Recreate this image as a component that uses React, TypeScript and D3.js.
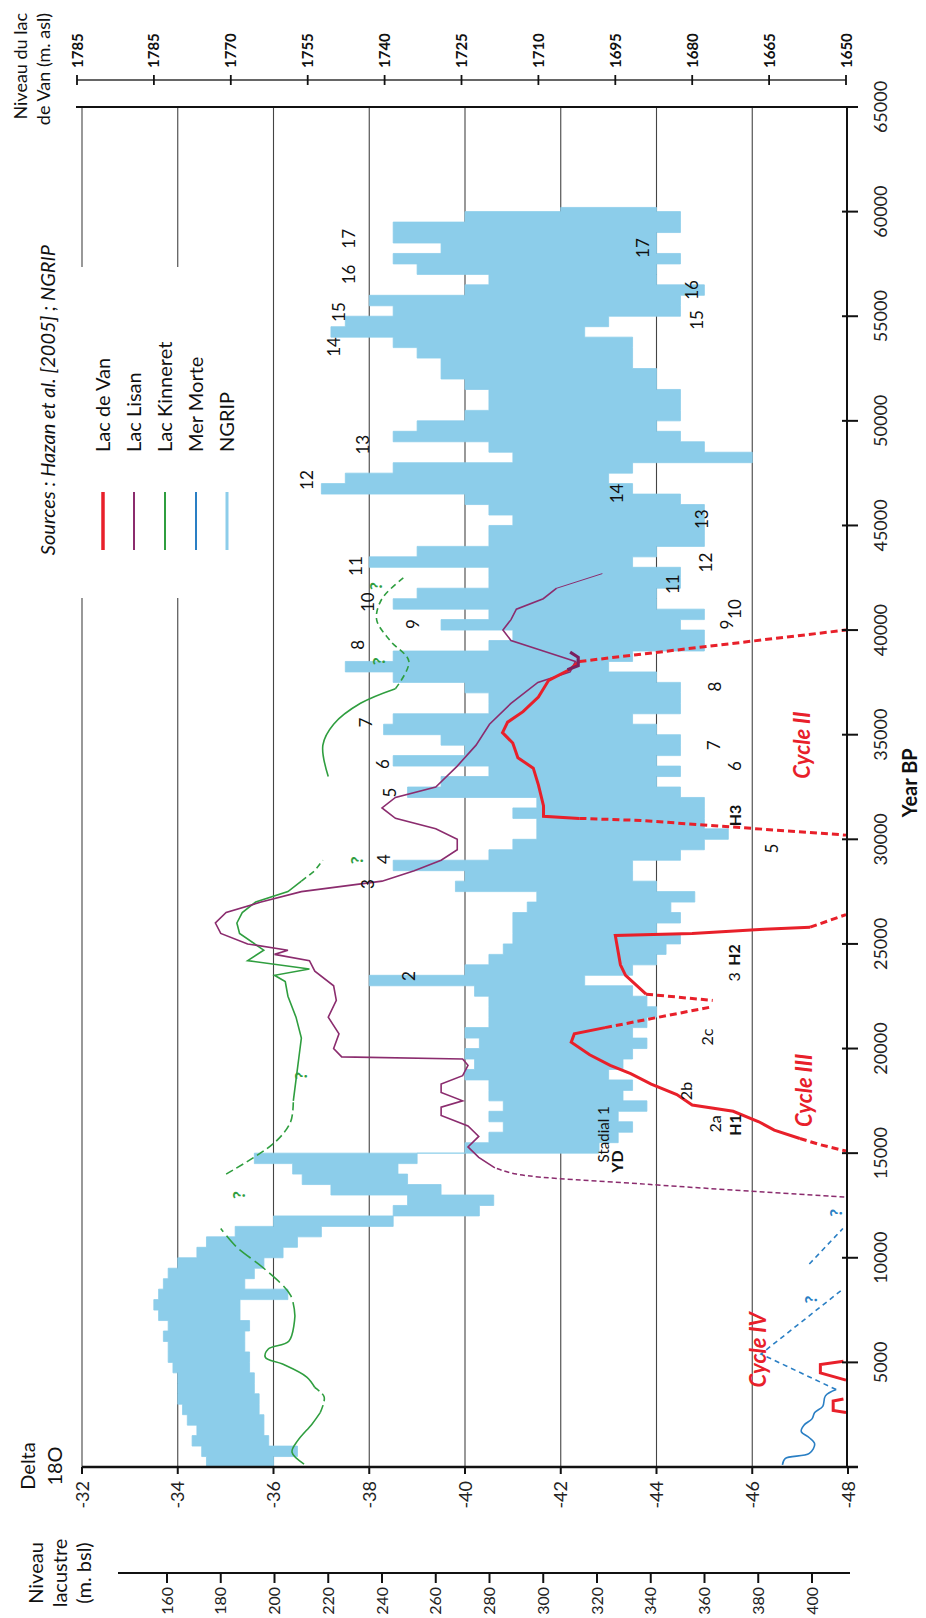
import React from "react";
import * as d3 from "d3";

const W = 926;
const HT = 1618;
const FONT = "Lato, 'Open Sans', 'Liberation Sans', sans-serif";

// ---------- axes / ticks ----------
const yearTicks = [5000, 10000, 15000, 20000, 25000, 30000, 35000, 40000, 45000, 50000, 55000, 60000, 65000];
const deltaTicks = [-32, -34, -36, -38, -40, -42, -44, -46, -48];
const bslTicks = [160, 180, 200, 220, 240, 260, 280, 300, 320, 340, 360, 380, 400];
const vanTickValues = [1800, 1785, 1770, 1755, 1740, 1725, 1710, 1695, 1680, 1665, 1650];
const vanTickLabels = ["1785", "1785", "1770", "1755", "1740", "1725", "1710", "1695", "1680", "1665", "1650"];

// ---------- NGRIP envelope, 500-yr bins (bin start year, warm edge, cold edge; per mil) ----------
const ngripYear = [
  0, 500, 1000, 1500, 2000, 2500, 3000, 3500, 4000, 4500, 5000, 5500, 6000, 6500, 7000, 7500, 8000, 8500, 9000, 9500,
  10000, 10500, 11000, 11500, 12000, 12500, 13000, 13500, 14000, 14500, 15000, 15500, 16000, 16500, 17000, 17500, 18000, 18500, 19000, 19500,
  20000, 20500, 21000, 21500, 22000, 22500, 23000, 23500, 24000, 24500, 25000, 25500, 26000, 26500, 27000, 27500, 28000, 28500, 29000, 29500,
  30000, 30500, 31000, 31500, 32000, 32500, 33000, 33500, 34000, 34500, 35000, 35500, 36000, 36500, 37000, 37500, 38000, 38500, 39000, 39500,
  40000, 40500, 41000, 41500, 42000, 42500, 43000, 43500, 44000, 44500, 45000, 45500, 46000, 46500, 47000, 47500, 48000, 48500, 49000, 49500,
  50000, 50500, 51000, 51500, 52000, 52500, 53000, 53500, 54000, 54500, 55000, 55500, 56000, 56500, 57000, 57500, 58000, 58500, 59000, 59500,
  60000, 60200,
];
const ngripWarm = [
  -34.6, -34.5, -34.3, -34.4, -34.2, -34.1, -34.0, -34.0, -34.0, -33.9, -33.8, -33.8, -33.7, -33.8, -33.6, -33.5, -33.6, -33.7, -33.8, -34.0,
  -34.4, -34.6, -35.2, -36.0, -38.5, -38.8, -37.2, -36.6, -36.4, -35.6, -40.0, -40.5, -40.8, -40.5, -40.8, -40.5, -40.5, -40.0, -40.2, -40.0,
  -40.3, -40.0, -40.5, -40.5, -40.5, -40.2, -38.0, -40.0, -40.5, -40.8, -41.0, -41.0, -41.0, -41.3, -41.5, -39.8, -40.0, -38.5, -40.5, -41.0,
  -41.5, -41.5, -41.0, -41.5, -38.8, -39.5, -40.5, -38.5, -40.0, -39.5, -38.3, -38.5, -40.5, -40.5, -40.0, -38.5, -37.5, -38.5, -40.5, -41.0,
  -39.5, -40.5, -38.5, -39.0, -40.5, -40.5, -38.0, -39.0, -40.5, -40.5, -41.0, -40.5, -40.0, -37.0, -37.5, -38.5, -41.0, -40.5, -38.5, -39.0,
  -40.0, -40.5, -40.5, -40.0, -39.5, -39.5, -39.0, -38.5, -37.2, -37.5, -38.5, -38.0, -40.0, -40.5, -39.0, -38.5, -39.5, -38.5, -38.5, -40.0,
  -42.0, -42.0,
];
const ngripCold = [
  -36.0, -36.5, -35.9, -35.8, -35.8, -35.7, -35.7, -35.6, -35.6, -35.5, -35.5, -35.4, -35.4, -35.5, -35.3, -35.3, -36.3, -35.4, -35.6, -35.8,
  -36.2, -36.5, -37.0, -38.5, -40.3, -40.6, -39.5, -38.8, -38.6, -39.0, -42.8, -43.2, -43.5, -43.2, -43.8, -43.3, -43.5, -43.0, -43.3, -43.5,
  -43.8, -43.5, -43.8, -44.0, -43.8, -43.5, -42.5, -43.5, -44.0, -44.2, -44.5, -44.0, -44.5, -44.3, -44.8, -44.0, -43.5, -43.5, -44.5, -45.0,
  -45.5, -45.0, -45.0, -45.0, -44.5, -44.0, -44.5, -44.0, -44.5, -44.5, -44.0, -43.5, -44.5, -44.5, -44.5, -44.0, -43.0, -43.5, -45.0, -45.0,
  -44.5, -45.0, -44.0, -44.0, -44.5, -44.5, -43.5, -44.0, -45.0, -45.0, -45.0, -45.0, -44.5, -43.5, -43.0, -43.5, -46.0, -45.0, -44.5, -44.0,
  -44.5, -44.5, -44.5, -44.0, -44.0, -43.5, -43.5, -43.5, -42.5, -43.0, -44.5, -44.5, -45.0, -44.0, -44.0, -44.5, -44.0, -44.0, -44.5, -44.5,
  -44.0, -44.0,
];

// ---------- Lac de Van (m asl) ----------
const vanIVaYear = [2600, 2700, 3150, 3250];
const vanIVaLevel = [1650, 1652.5, 1652.5, 1650.5];
const vanIVbYear = [4150, 4500, 4900, 5050];
const vanIVbLevel = [1650, 1655, 1655, 1650.5];

const vanIIIYear = [15700, 16100, 16500, 17000, 17300, 17800, 18300, 18800, 19200, 19700, 20300, 20700, 21000];
const vanIIILevel = [1659, 1664, 1667, 1672, 1680, 1683, 1688, 1692, 1696, 1700, 1703.6, 1703, 1697];
const vanIIIdashYear = [15700, 15400, 15100];
const vanIIIdashLevel = [1659, 1655, 1650];
const vanIIIdash2Year = [21000, 22000];
const vanIIIdash2Level = [1697, 1676];

const vanH2Year = [22600, 23500, 24000, 25400, 25500, 25700, 25800];
const vanH2Level = [1689, 1693, 1694, 1695, 1680, 1666, 1657];
const vanH2dashYear = [22600, 22300];
const vanH2dashLevel = [1689, 1676];
const vanH2dash2Year = [25800, 26400];
const vanH2dash2Level = [1657, 1650];

const vanIIYear = [31000, 31100, 31600, 32600, 33400, 33900, 34600, 35100, 35600, 36100, 36800, 37600, 38100, 38500];
const vanIILevel = [1702, 1709, 1709, 1710, 1711, 1714, 1715, 1717, 1716, 1713, 1710, 1708, 1704, 1702];
const vanIIdashYear = [31000, 30900, 30200];
const vanIIdashLevel = [1702, 1690, 1650];
const vanIIdash2Year = [38500, 40000];
const vanIIdash2Level = [1702, 1650];

// ---------- Lac Lisan (m bsl) ----------
const lisanDashYear = [12900, 13500, 14000, 14300];
const lisanDashLevel = [412, 340, 290, 282];
const lisanYear = [14300, 14800, 15300, 15800, 16300, 16800, 17200, 17500, 17900, 18300, 18700, 19200, 19500, 19600, 20000, 20700, 21500, 22300, 23000, 23700, 24200, 24500, 24700, 25000, 25500, 26000, 26500, 27000, 27500, 28000, 28500, 29000, 29500, 30000, 30500, 31000, 31500, 32000, 32500, 33500, 34500, 35500, 36500, 37500, 38000, 38500, 39000, 39500, 40000, 40500, 41000, 41500, 42000];
const lisanLevel = [282, 276, 272, 276, 272, 262, 262, 270, 262, 262, 270, 272, 270, 225, 222, 224, 220, 223, 222, 215, 213, 200, 205, 190, 180, 178, 182, 195, 210, 240, 252, 262, 268, 268, 260, 245, 240, 245, 260, 268, 275, 280, 288, 298, 310, 312, 300, 288, 285, 288, 290, 300, 305];
const lisanTailYear = [42000, 42700];
const lisanTailLevel = [305, 322];
const lisanThickYear = [38100, 38300, 38700, 38950];
const lisanThickLevel = [309, 313, 313, 310];

// ---------- Lac Kinneret (m bsl) ----------
const kinAYear = [140, 710, 1270, 2060, 2600];
const kinALevel = [211, 206.5, 208.7, 214, 217];
const kinADashYear = [2600, 3340, 3800];
const kinADashLevel = [217, 218.5, 215];
const kinBYear = [3800, 4300, 4920, 5240, 5640, 6020, 7220];
const kinBLevel = [215, 212, 203, 196.6, 197.7, 205.4, 207.6];
const kinBDashYear = [7220, 8200, 9500, 10500, 11400];
const kinBDashLevel = [207.6, 206, 196, 186, 180];
const kinCDashYear = [14000, 15500, 16500, 17500];
const kinCDashLevel = [182, 200, 206, 207];
const kinCYear = [17500, 18500, 19500, 20500, 21500, 22500, 23200, 23500, 23800, 24200, 24700, 25500, 26000, 26500, 27000, 27500, 28000];
const kinCLevel = [207, 208, 209, 210, 208, 205, 204, 200, 213, 190, 196, 187, 186, 188, 193, 205, 210];
const kinCDash2Year = [28000, 28500, 29000];
const kinCDash2Level = [210, 215, 218];
const kinDYear = [33000, 34500, 35500, 36500, 37200];
const kinDLevel = [220, 218, 222, 232, 245];
const kinDDashYear = [37200, 38500, 39500, 40500, 41500, 42500];
const kinDDashLevel = [245, 250, 243, 238, 240, 248];

// ---------- Mer Morte (m bsl) ----------
const mmYear = [100, 400, 650, 1100, 1400, 1700, 2000, 2300, 2600, 2900, 3400, 3700];
const mmLevel = [389, 390, 399, 401, 399, 396, 397, 400, 401, 404, 405, 409];
const mmDashYear = [3700, 5400, 8500];
const mmDashLevel = [409, 381, 411.5];
const mmDash2Year = [9700, 11400];
const mmDash2Level = [399, 411.5];

// ---------- annotations: interstadial numbers ----------
const isWarmLabels = ["17", "16", "15", "14", "13", "12", "11", "10", "9", "8", "7", "6", "5", "4", "3", "2"];
const isWarmYear = [58700, 57000, 55200, 53530, 48860, 47170, 43060, 41330, 40290, 39300, 35580, 33600, 32230, 29050, 27860, 23460];
const isWarmDelta = [-37.7, -37.7, -37.5, -37.39, -38.0, -36.83, -37.85, -38.09, -39.04, -37.89, -38.06, -38.41, -38.56, -38.43, -38.09, -38.96];
const isColdLabels = ["17", "16", "15", "14", "13", "12", "11", "10", "9", "8", "7", "6", "5"];
const isColdYear = [58260, 56255, 54820, 46530, 45300, 43225, 42190, 41005, 40266, 37300, 34493, 33505, 29560];
const isColdDelta = [-43.84, -44.87, -44.97, -43.3, -45.08, -45.16, -44.47, -45.76, -45.6, -45.35, -45.33, -45.76, -46.54];

// ---------- annotations: events ----------
const eventLabels = ["Stadial 1", "YD", "2a", "H1", "2b", "2c", "3", "H2", "H3"];
const eventYear = [15900, 14600, 16400, 16350, 17970, 20550, 23420, 24470, 31140];
const eventDelta = [-43.0, -43.31, -45.35, -45.77, -44.74, -45.18, -45.74, -45.74, -45.77];
const eventBold = [false, true, false, true, false, false, false, true, true];
const eventSize = [15, 16, 16, 16, 16, 16, 16, 16, 16];

const kinQYear = [13000, 18700, 29000, 38500, 42100];
const kinQLevel = [189, 212, 233, 241, 240];
const mmQYear = [12150, 8000];
const mmQLevel = [411, 402];

function pts(years: number[], vals: number[]) {
  return years.map((y, i) => [y, vals[i]] as [number, number]);
}

export default function App() {
  const yYear = d3.scaleLinear().domain([0, 65000]).range([1467, 107]);
  const xDelta = d3.scaleLinear().domain([-32, -48]).range([82, 848]);
  const xBsl = d3.scaleLinear().domain([160, 400]).range([167, 812]);
  const xVan = d3.scaleLinear().domain([1800, 1650]).range([77, 846]);

  const lineVan = d3.line<[number, number]>().x((d) => xVan(d[1])).y((d) => yYear(d[0]));
  const lineBsl = d3.line<[number, number]>().x((d) => xBsl(d[1])).y((d) => yYear(d[0]));
  const lineBslSmooth = d3.line<[number, number]>().x((d) => xBsl(d[1])).y((d) => yYear(d[0])).curve(d3.curveCatmullRom);

  const ngrip = ngripYear.map((y, i) => ({ y0: y, w: ngripWarm[i], c: ngripCold[i] }));
  const ngripArea = d3
    .area<{ y0: number; w: number; c: number }>()
    .y((d) => yYear(d.y0))
    .x0((d) => xDelta(d.w))
    .x1((d) => xDelta(d.c))
    .curve(d3.curveStepBefore);

  const RED = "#e8202a";
  const PURPLE = "#8b2c6e";
  const GREEN = "#2f9e3f";
  const BLUE = "#2a7fc4";
  const LBLUE = "#8ccdea";

  const rot = (x: number, y: number) => `translate(${x},${y}) rotate(-90)`;

  const legendItems = [
    { label: "Lac de Van", color: RED, w: 3.5 },
    { label: "Lac Lisan", color: PURPLE, w: 2 },
    { label: "Lac Kinneret", color: GREEN, w: 2 },
    { label: "Mer Morte", color: BLUE, w: 2 },
    { label: "NGRIP", color: LBLUE, w: 3 },
  ];

  const vanSeries: [number[], number[], boolean][] = [
    [vanIVaYear, vanIVaLevel, false],
    [vanIVbYear, vanIVbLevel, false],
    [vanIIIYear, vanIIILevel, false],
    [vanIIIdashYear, vanIIIdashLevel, true],
    [vanIIIdash2Year, vanIIIdash2Level, true],
    [vanH2Year, vanH2Level, false],
    [vanH2dashYear, vanH2dashLevel, true],
    [vanH2dash2Year, vanH2dash2Level, true],
    [vanIIYear, vanIILevel, false],
    [vanIIdashYear, vanIIdashLevel, true],
    [vanIIdash2Year, vanIIdash2Level, true],
  ];

  return (
    <svg width={W} height={HT} style={{ position: "absolute", left: 0, top: 0, background: "#fff" }} fontFamily={FONT}>
      <rect x={0} y={0} width={W} height={HT} fill="#fff" />
      {deltaTicks.slice(0, 8).map((d) => (
        <line key={"g" + d} x1={xDelta(d)} x2={xDelta(d)} y1={107} y2={1467} stroke="#444" strokeWidth={1.1} />
      ))}
      <rect x={70} y={267} width={130} height={331} fill="#fff" />

      {/* NGRIP */}
      <path d={ngripArea(ngrip) || ""} fill={LBLUE} stroke={LBLUE} strokeWidth={0.8} />

      {/* Kinneret */}
      <path d={lineBslSmooth(pts(kinAYear, kinALevel)) || ""} fill="none" stroke={GREEN} strokeWidth={1.6} />
      <path d={lineBslSmooth(pts(kinADashYear, kinADashLevel)) || ""} fill="none" stroke={GREEN} strokeWidth={1.6} strokeDasharray="8,4" />
      <path d={lineBslSmooth(pts(kinBYear, kinBLevel)) || ""} fill="none" stroke={GREEN} strokeWidth={1.6} />
      <path d={lineBslSmooth(pts(kinBDashYear, kinBDashLevel)) || ""} fill="none" stroke={GREEN} strokeWidth={1.6} strokeDasharray="14,5" />
      <path d={lineBslSmooth(pts(kinCDashYear, kinCDashLevel)) || ""} fill="none" stroke={GREEN} strokeWidth={1.6} strokeDasharray="8,4" />
      <path d={lineBsl(pts(kinCYear, kinCLevel)) || ""} fill="none" stroke={GREEN} strokeWidth={1.6} />
      <path d={lineBsl(pts(kinCDash2Year, kinCDash2Level)) || ""} fill="none" stroke={GREEN} strokeWidth={1.6} strokeDasharray="6,4" />
      <path d={lineBslSmooth(pts(kinDYear, kinDLevel)) || ""} fill="none" stroke={GREEN} strokeWidth={1.6} />
      <path d={lineBslSmooth(pts(kinDDashYear, kinDDashLevel)) || ""} fill="none" stroke={GREEN} strokeWidth={1.6} strokeDasharray="6,4" />

      {/* Lisan */}
      <path d={lineBslSmooth(pts(lisanDashYear, lisanDashLevel)) || ""} fill="none" stroke={PURPLE} strokeWidth={1.5} strokeDasharray="5,3" />
      <path d={lineBsl(pts(lisanYear, lisanLevel)) || ""} fill="none" stroke={PURPLE} strokeWidth={1.6} />
      <path d={lineBsl(pts(lisanTailYear, lisanTailLevel)) || ""} fill="none" stroke={PURPLE} strokeWidth={1} />

      {/* Mer Morte */}
      <path d={lineBslSmooth(pts(mmYear, mmLevel)) || ""} fill="none" stroke={BLUE} strokeWidth={1.6} />
      <path d={lineBsl(pts(mmDashYear, mmDashLevel)) || ""} fill="none" stroke={BLUE} strokeWidth={1.6} strokeDasharray="5,4" />
      <path d={lineBsl(pts(mmDash2Year, mmDash2Level)) || ""} fill="none" stroke={BLUE} strokeWidth={1.6} strokeDasharray="5,4" />

      {/* Van */}
      {vanSeries.map((s, i) => (
        <path key={"van" + i} d={lineVan(pts(s[0], s[1])) || ""} fill="none" stroke={RED} strokeWidth={3} strokeDasharray={s[2] ? "7,4" : undefined} />
      ))}
      <path d={lineBsl(pts(lisanThickYear, lisanThickLevel)) || ""} fill="none" stroke="#7a2160" strokeWidth={3.2} />

      {/* frame */}
      <line x1={76} x2={858} y1={107} y2={107} stroke="#111" strokeWidth={2} />
      <line x1={847} x2={847} y1={107} y2={1467} stroke="#111" strokeWidth={2} />
      <line x1={82} x2={858} y1={1467} y2={1467} stroke="#111" strokeWidth={2.5} />

      {yearTicks.map((t) => (
        <g key={"yt" + t}>
          <line x1={842} x2={858} y1={yYear(t)} y2={yYear(t)} stroke="#111" strokeWidth={2} />
          <text transform={rot(887, yYear(t))} textAnchor="middle" fontSize={18} fill="#222">
            {t}
          </text>
        </g>
      ))}
      <text transform={rot(917, yYear(32700))} textAnchor="middle" fontSize={20} fontWeight="bold" fill="#111">
        Year BP
      </text>

      {deltaTicks.map((t) => (
        <g key={"dt" + t}>
          <line x1={xDelta(t)} x2={xDelta(t)} y1={1467} y2={1474} stroke="#111" strokeWidth={2} />
          <text transform={rot(xDelta(t) + 6.5, 1481)} textAnchor="end" fontSize={18} fill="#222">
            {t}
          </text>
        </g>
      ))}
      <text transform={rot(35, 1466)} textAnchor="middle" fontSize={20} fill="#111">
        Delta
      </text>
      <text transform={rot(62, 1466)} textAnchor="middle" fontSize={20} fill="#111">
        18O
      </text>

      <line x1={118} x2={850} y1={1573} y2={1573} stroke="#111" strokeWidth={2} />
      {bslTicks.map((t) => (
        <g key={"bt" + t}>
          <line x1={xBsl(t)} x2={xBsl(t)} y1={1573} y2={1583} stroke="#111" strokeWidth={2} />
          <text transform={rot(xBsl(t) + 5.5, 1587)} textAnchor="end" fontSize={16} fill="#222">
            {t}
          </text>
        </g>
      ))}
      <text transform={rot(43, 1573)} textAnchor="middle" fontSize={20} fill="#111">
        Niveau
      </text>
      <text transform={rot(67, 1573)} textAnchor="middle" fontSize={20} fill="#111">
        lacustre
      </text>
      <text transform={rot(91, 1573)} textAnchor="middle" fontSize={20} fill="#111">
        (m. bsl)
      </text>

      <line x1={77} x2={846} y1={80} y2={80} stroke="#333" strokeWidth={1.5} />
      {vanTickValues.map((t, i) => (
        <g key={"vt" + i}>
          <line x1={xVan(t)} x2={xVan(t)} y1={75} y2={85} stroke="#111" strokeWidth={1.8} />
          <text transform={rot(xVan(t) + 5.5, 68)} textAnchor="start" fontSize={15} fontWeight="bold" fill="#111">
            {vanTickLabels[i]}
          </text>
        </g>
      ))}
      <text transform={rot(27, 13)} textAnchor="end" fontSize={18} fill="#111">
        Niveau du lac
      </text>
      <text transform={rot(50, 13)} textAnchor="end" fontSize={18} fill="#111">
        de Van (m. asl)
      </text>

      <text transform={rot(55, 245)} textAnchor="end" fontSize={20} fontStyle="italic" fill="#111">
        Sources : Hazan et al. [2005] ; NGRIP
      </text>
      {legendItems.map((it, i) => (
        <g key={"lg" + i}>
          <text transform={rot(110 + i * 31, 452)} textAnchor="start" fontSize={20} fill="#111">
            {it.label}
          </text>
          <line x1={103 + i * 31} x2={103 + i * 31} y1={492} y2={550} stroke={it.color} strokeWidth={it.w} />
        </g>
      ))}

      {isWarmLabels.map((l, i) => (
        <text key={"iw" + i} transform={rot(xDelta(isWarmDelta[i]), yYear(isWarmYear[i]))} textAnchor="middle" fontSize={17} fill="#111">
          {l}
        </text>
      ))}
      {isColdLabels.map((l, i) => (
        <text key={"ic" + i} transform={rot(xDelta(isColdDelta[i]), yYear(isColdYear[i]))} textAnchor="middle" fontSize={17} fill="#111">
          {l}
        </text>
      ))}
      {eventLabels.map((l, i) => (
        <text
          key={"ev" + i}
          transform={rot(xDelta(eventDelta[i]), yYear(eventYear[i]))}
          textAnchor="middle"
          fontSize={eventSize[i]}
          fontWeight={eventBold[i] ? "bold" : "normal"}
          fill="#111"
        >
          {l}
        </text>
      ))}
      {kinQYear.map((y, i) => (
        <text key={"kq" + i} transform={rot(xBsl(kinQLevel[i]), yYear(y))} textAnchor="middle" fontSize={17} fontWeight="bold" fill={GREEN}>
          ?
        </text>
      ))}
      {mmQYear.map((y, i) => (
        <text key={"mq" + i} transform={rot(xBsl(mmQLevel[i]), yYear(y))} textAnchor="middle" fontSize={17} fontWeight="bold" fill={BLUE}>
          ?
        </text>
      ))}

      <text transform={rot(810, yYear(34500))} textAnchor="middle" fontSize={22} fontWeight="bold" fontStyle="italic" fill={RED}>
        Cycle II
      </text>
      <text transform={rot(812, yYear(18000))} textAnchor="middle" fontSize={22} fontWeight="bold" fontStyle="italic" fill={RED}>
        Cycle III
      </text>
      <text transform={rot(766, yYear(5600))} textAnchor="middle" fontSize={22} fontWeight="bold" fontStyle="italic" fill={RED}>
        Cycle IV
      </text>
    </svg>
  );
}
